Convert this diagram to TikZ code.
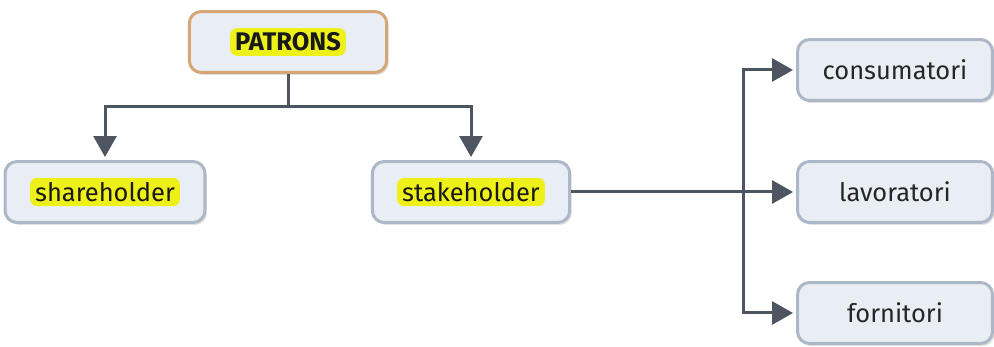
\documentclass[tikz,border=0pt]{standalone}
\usepackage{fontspec}
\setmainfont{Fira Sans}
\usetikzlibrary{positioning,arrows.meta,shadows}
\definecolor{BoxFill}{RGB}{233,238,245}
\definecolor{BoxLine}{RGB}{172,184,199}
\definecolor{RootLine}{RGB}{214,166,118}
\definecolor{FlowGray}{RGB}{77,86,96}
\definecolor{MarkYellow}{RGB}{238,240,26}
\tikzset{
  flow/.style={-{Triangle[length=0.42cm,width=0.46cm]},line width=0.06cm,
    draw=FlowGray,shorten >=0.06cm},
  wire/.style={line width=0.06cm,draw=FlowGray},
  box/.style={draw=BoxLine,line width=0.06cm,fill=BoxFill,rounded corners=0.24cm,
    minimum width=3.95cm,minimum height=1.22cm,
    drop shadow={shadow xshift=0.04cm,shadow yshift=-0.05cm,opacity=0.25}},
  rootbox/.style={box,draw=RootLine},
  hilite/.style={fill=MarkYellow,rounded corners=0.14cm,inner xsep=0.1cm,
    inner ysep=0.09cm,text=black!90,font=\fontsize{14.5}{16}\selectfont},
  plain/.style={font=\fontsize{14.5}{16}\selectfont,text=black!85}
}
\begin{document}
\begin{tikzpicture}[x=0.02cm,y=-0.02cm]
  \useasboundingbox (0,0) rectangle (994,347);
  % root and first level
  \node[rootbox] (patrons) at (288,42) {};
  \node[hilite,font=\fontsize{14.5}{16}\selectfont\bfseries] (patronsT) at (patrons) {PATRONS};
  \node[box,minimum width=4cm] (share) at (105,192) {};
  \node[hilite] (shareT) at (share) {shareholder};
  \node[box,minimum width=3.95cm] (stake) at (471,192) {};
  \node[hilite] (stakeT) at (stake) {stakeholder};
  % groups on the right
  \node[box,minimum width=3.9cm] (consum) at (895,70) {};
  \node[plain] (consumT) at (consum) {consumatori};
  \node[box,minimum width=3.9cm] (lavor) at (895,192) {};
  \node[plain] (lavorT) at (lavor) {lavoratori};
  \node[box,minimum width=3.9cm] (forn) at (895,313) {};
  \node[plain] (fornT) at (forn) {fornitori};
  % connectors
  \coordinate (fork) at (288,107);
  \coordinate (split) at (743,192);
  \draw[wire] (patrons.south) -- (fork);
  \draw[flow] (fork) -| (share.north);
  \draw[flow] (fork) -| (stake.north);
  \draw[wire] (stake.east) -- (split);
  \draw[flow] (split) |- (consum.west);
  \draw[flow] (split) -- (lavor.west);
  \draw[flow] (split) |- (forn.west);
\end{tikzpicture}
\end{document}
